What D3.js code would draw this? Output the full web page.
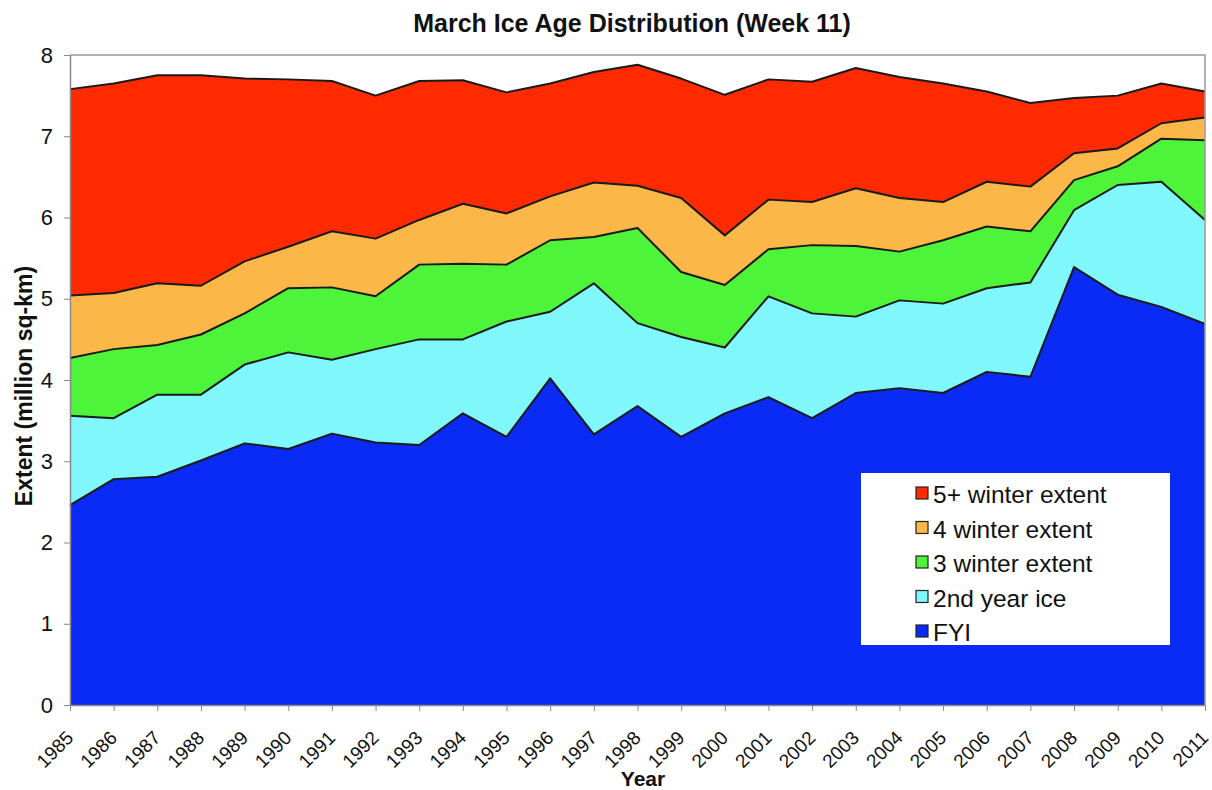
<!DOCTYPE html>
<html><head><meta charset="utf-8">
<script src="https://cdn.jsdelivr.net/npm/d3@7/dist/d3.min.js"></script>
<style>body{margin:0;background:#fff;} svg{display:block;font-family:Arial,"Liberation Sans",sans-serif;}</style>
</head><body>
<svg id="chart" width="1212" height="790"></svg>
<script>
const years = [1985,1986,1987,1988,1989,1990,1991,1992,1993,1994,1995,1996,1997,1998,1999,2000,2001,2002,2003,2004,2005,2006,2007,2008,2009,2010,2011];
const fyi      = [2.46,2.78,2.81,3.01,3.22,3.15,3.34,3.23,3.20,3.59,3.30,4.02,3.33,3.68,3.30,3.59,3.79,3.53,3.84,3.90,3.84,4.10,4.04,5.39,5.05,4.90,4.69];
const secondYr = [1.10,0.75,1.01,0.81,0.97,1.19,0.91,1.15,1.30,0.91,1.42,0.82,1.86,1.02,1.23,0.81,1.24,1.29,0.94,1.08,1.10,1.03,1.16,0.70,1.35,1.54,1.28];
const winter3  = [0.71,0.85,0.61,0.74,0.63,0.79,0.89,0.65,0.92,0.93,0.70,0.88,0.57,1.17,0.80,0.77,0.58,0.84,0.87,0.60,0.78,0.76,0.63,0.37,0.23,0.53,0.98];
const winter4  = [0.77,0.69,0.76,0.60,0.64,0.51,0.69,0.71,0.55,0.74,0.63,0.54,0.67,0.52,0.91,0.61,0.61,0.53,0.71,0.66,0.47,0.55,0.55,0.33,0.22,0.19,0.28];
const winter5p = [2.54,2.58,2.56,2.59,2.25,2.06,1.85,1.76,1.71,1.52,1.49,1.39,1.36,1.49,1.47,1.73,1.48,1.48,1.48,1.49,1.46,1.11,1.03,0.68,0.65,0.49,0.32];
const seriesKeys = ["FYI","2nd year ice","3 winter extent","4 winter extent","5+ winter extent"];
const seriesColors = ["#0a2af5","#80f8fb","#4df43a","#fbb748","#ff2a00"];
const yTicks = [0,1,2,3,4,5,6,7,8];

const table = years.map((y,i)=>({year:y,"FYI":fyi[i],"2nd year ice":secondYr[i],"3 winter extent":winter3[i],"4 winter extent":winter4[i],"5+ winter extent":winter5p[i]}));

const svg = d3.select("#chart");
const L=70, R=1205, T=55, B=705;
const x = d3.scaleLinear().domain([1985,2011]).range([L,R]);
const y = d3.scaleLinear().domain([0,8]).range([B,T]);
const color = d3.scaleOrdinal().domain(seriesKeys).range(seriesColors);

const stacked = d3.stack().keys(seriesKeys)(table);
const area = d3.area().x(d=>x(d.data.year)).y0(d=>y(d[0])).y1(d=>y(d[1]));
const line = d3.line().x(d=>x(d.data.year)).y(d=>y(d[1]));

svg.append("g").selectAll("path").data(stacked).join("path")
  .attr("d",area).attr("fill",d=>color(d.key)).attr("stroke","none");
svg.append("g").selectAll("path").data(stacked).join("path")
  .attr("d",line).attr("fill","none").attr("stroke","#1a1a1a").attr("stroke-width",2).attr("stroke-linejoin","round");

// plot border top/right
svg.append("path").attr("d",`M${L},${T}H${R}V${B}`).attr("fill","none").attr("stroke","#9a9a9a").attr("stroke-width",1.5);

// axes
const xAxis = d3.axisBottom(x).tickValues(years).tickFormat(d3.format("d")).tickSize(6).tickSizeOuter(0);
const gx = svg.append("g").attr("transform",`translate(0,${B})`).call(xAxis);
gx.select(".domain").attr("stroke","#888").attr("stroke-width",1.5);
gx.selectAll(".tick line").attr("stroke","#888");
gx.selectAll(".tick text").attr("font-size",19).attr("fill","#111")
  .attr("text-anchor","end").attr("dy",null).attr("dx",null)
  .attr("transform","translate(4,34) rotate(-45)").attr("y",0).attr("x",0);

const yAxis = d3.axisLeft(y).tickValues(yTicks).tickSize(6).tickSizeOuter(0);
const gy = svg.append("g").attr("transform",`translate(${L},0)`).call(yAxis);
gy.select(".domain").attr("stroke","#888").attr("stroke-width",1.5);
gy.selectAll(".tick line").attr("stroke","#888");
gy.selectAll(".tick text").attr("font-size",22).attr("fill","#111").attr("x",-17);

// titles
svg.append("text").attr("x",632).attr("y",32).attr("text-anchor","middle")
  .attr("font-size",25).attr("font-weight","bold").attr("fill","#111").text("March Ice Age Distribution (Week 11)");
svg.append("text").attr("transform","translate(32,386) rotate(-90)").attr("text-anchor","middle")
  .attr("font-size",23).attr("font-weight","bold").attr("fill","#111").text("Extent (million sq-km)");
svg.append("text").attr("x",643).attr("y",786).attr("text-anchor","middle")
  .attr("font-size",21).attr("font-weight","bold").attr("fill","#111").text("Year");

// legend
const lg = svg.append("g");
lg.append("rect").attr("x",861).attr("y",473).attr("width",309).attr("height",172).attr("fill","#fff");
const legendKeys = seriesKeys.slice().reverse();
legendKeys.forEach((k,i)=>{
  const cy = 494 + i*34.5;
  lg.append("rect").attr("x",916).attr("y",cy-7).attr("width",12).attr("height",12)
    .attr("fill",color(k)).attr("stroke","#222").attr("stroke-width",1.2);
  lg.append("text").attr("x",933).attr("y",cy+9).attr("font-size",24.5).attr("fill","#111").text(k);
});
</script>
</body></html>
